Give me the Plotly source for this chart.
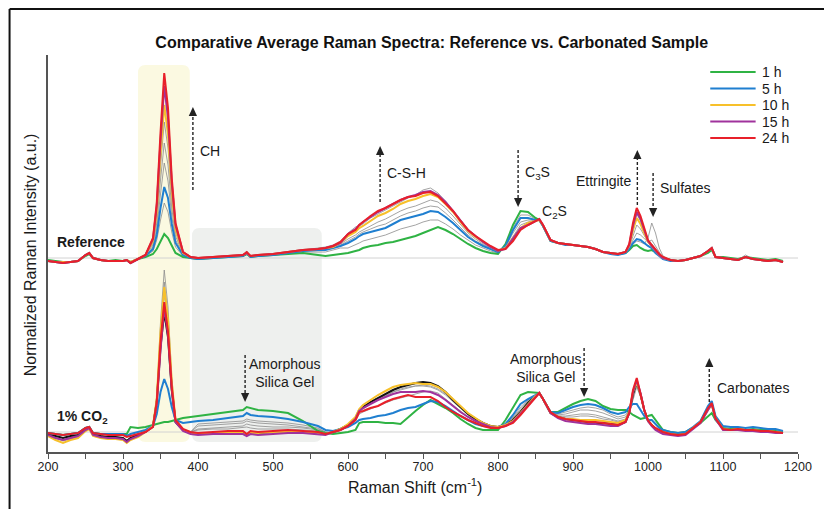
import numpy as np
import plotly.graph_objects as go

# ---------------------------------------------------------------- data
raman_shift = [200, 210, 220, 230, 240, 250, 255, 260, 270, 280, 290, 300, 305, 310, 320,
               330, 340, 345, 350, 355, 360, 365, 370, 380, 390,
               400, 420, 440, 460, 465, 470, 480, 500, 520, 540, 560, 570, 580, 590,
               600, 610, 615, 620, 630, 640, 650, 660, 670, 680, 690, 700, 710, 720, 730, 740,
               750, 760, 770, 780, 790, 800,
               810, 820, 830, 840, 850, 855, 860, 870,
               880, 890, 900, 910, 920, 930, 940, 950, 960, 970,
               975, 980, 985, 990, 995, 1000, 1005, 1010, 1015, 1020,
               1030, 1040, 1050, 1060, 1070, 1080, 1085, 1090,
               1100, 1110, 1120, 1130, 1140, 1150, 1160, 1170, 1180]

# Intensities above each panel's baseline, in units of 0.01 a.u.
# ---- Reference sample
ref_1h = [-2, -3, -4, -4, -3, 2, 4, 0, -2, -3, -2, -3, -2, -4, -1,
          1, 4, 9, 17, 24, 20, 12, 5, 1, 0,
          -1, 0, 1, 2, 4, 1, 2, 3, 4, 5, 3, 2, 3, 4,
          5, 7, 8, 10, 12, 13, 15, 16, 18, 20, 22, 25, 28, 31, 28, 24, 19, 14, 10, 7, 5, 4,
          14, 33, 47, 46, 40, 38, 32, 17,
          15, 14, 13, 12, 11, 9, 6, 5, 4, 5,
          8, 12, 13, 10, 8, 7, 8, 6, 3, 0,
          -2, -3, -2, 0, 2, 5, 8, 1,
          1, 0, -1, 1, 0, -1, -2, -1, -3]
ref_5h = [-3, -4, -5, -4, -3, 3, 5, 0, -2, -3, -3, -3, -2, -5, -1,
          2, 9, 23, 50, 71, 60, 34, 15, 3, 0,
          -1, 0, 1, 2, 5, 1, 2, 3, 5, 7, 8, 8, 10, 12,
          15, 19, 22, 24, 26, 28, 30, 34, 38, 40, 42, 44, 47, 46, 41, 35, 28, 21, 16, 12, 9, 6,
          12, 28, 40, 40, 38, 38, 32, 17,
          15, 13, 13, 12, 11, 9, 6, 4, 3, 5,
          9, 15, 19, 18, 15, 12, 10, 5, 2, -1,
          -3, -3, -2, 0, 2, 7, 10, 1,
          0, -1, -2, 1, -1, -2, -3, -2, -4]
ref_10h = [-3, -4, -4, -4, -3, 3, 5, 0, -2, -3, -3, -3, -2, -4, -1,
           3, 17, 46, 104, 153, 124, 66, 29, 5, 1,
           0, 1, 2, 3, 5, 2, 3, 4, 6, 8, 9, 10, 11, 15,
           22, 26, 30, 32, 37, 42, 45, 49, 54, 57, 59, 62, 64, 61, 54, 46, 36, 27, 21, 16, 11, 7,
           10, 20, 30, 35, 37, 38, 33, 18,
           15, 14, 13, 12, 11, 9, 6, 5, 4, 6,
           12, 28, 40, 34, 25, 16, 12, 7, 3, 0,
           -2, -3, -2, 0, 2, 7, 10, 1,
           0, -1, -2, 1, -1, -2, -3, -2, -4]
ref_15h = [-3, -4, -5, -4, -3, 3, 5, 0, -2, -3, -3, -3, -2, -5, -1,
           3, 19, 52, 117, 172, 140, 75, 33, 6, 1,
           0, 1, 2, 3, 5, 2, 3, 4, 6, 8, 9, 10, 12, 15,
           24, 29, 33, 36, 41, 46, 50, 54, 58, 61, 63, 66, 67, 63, 56, 47, 37, 28, 22, 16, 11, 7,
           9, 19, 30, 33, 37, 39, 33, 18,
           15, 14, 13, 12, 11, 9, 6, 5, 4, 6,
           13, 32, 46, 39, 28, 17, 12, 7, 3, 0,
           -2, -3, -2, 0, 2, 7, 10, 1,
           0, -1, -2, 1, -1, -2, -3, -2, -4]
ref_24h = [-3, -4, -5, -4, -3, 3, 5, 0, -2, -3, -3, -3, -2, -5, -1,
           3, 20, 55, 125, 185, 150, 80, 35, 6, 1,
           0, 1, 2, 3, 6, 2, 3, 4, 6, 8, 9, 10, 12, 16,
           24, 28, 33, 36, 42, 47, 50, 54, 58, 61, 62, 65, 66, 62, 55, 47, 37, 28, 22, 17, 12, 8,
           9, 17, 28, 33, 37, 39, 33, 18,
           15, 14, 13, 12, 11, 9, 6, 5, 4, 6,
           14, 35, 50, 42, 30, 18, 13, 8, 4, 1,
           -2, -3, -2, 0, 2, 7, 10, 1,
           0, -1, -2, 1, -1, -2, -3, -2, -4]
# intermediate hours (thin grey)
ref_grey_a = [-3, -4, -5, -4, -3, 3, 6, 0, -2, -3, -3, -3, -2, -5, -1,
              3, 15, 41, 92, 136, 110, 59, 26, 5, 1,
              0, 1, 2, 3, 7, 2, 3, 4, 6, 8, 10, 11, 13, 17,
              25, 31, 32, 34, 40, 44, 48, 52, 56, 60, 63, 68, 70, 65, 57, 48, 38, 29, 22, 16, 11, 7,
              9, 18, 29, 34, 37, 39, 33, 18,
              15, 14, 13, 12, 11, 9, 6, 5, 4, 6,
              12, 27, 44, 37, 27, 17, 12, 7, 3, 0,
              -2, -3, -2, 0, 2, 7, 10, 1,
              0, -1, -2, 3, -1, -2, -3, -2, -4]
ref_grey_b = [-3, -4, -5, -4, -3, 3, 5, 0, -2, -3, -3, -3, -2, -5, -1,
              3, 13, 35, 78, 115, 93, 50, 22, 4, 1,
              0, 1, 2, 3, 6, 2, 3, 4, 6, 8, 9, 10, 12, 14,
              19, 23, 26, 28, 32, 36, 39, 43, 47, 50, 52, 55, 58, 56, 50, 42, 33, 25, 19, 14, 10, 7,
              10, 22, 33, 36, 38, 38, 32, 17,
              15, 14, 13, 12, 11, 9, 6, 5, 4, 6,
              11, 22, 33, 29, 22, 16, 14, 8, 3, 0,
              -2, -3, -2, 0, 2, 7, 10, 1,
              0, -1, -2, 1, -1, -2, -3, -2, -4]
ref_grey_c = [-3, -4, -5, -4, -3, 3, 5, 0, -2, -3, -3, -3, -2, -5, -1,
              2, 11, 29, 64, 95, 77, 42, 18, 4, 0,
              0, 1, 2, 3, 5, 2, 2, 3, 5, 7, 8, 9, 11, 13,
              17, 21, 24, 26, 29, 32, 34, 38, 42, 45, 47, 50, 52, 51, 45, 38, 30, 23, 17, 13, 9, 6,
              11, 25, 36, 38, 38, 38, 32, 17,
              15, 13, 13, 12, 11, 9, 6, 5, 4, 5,
              10, 18, 25, 23, 19, 16, 18, 12, 5, 0,
              -2, -3, -2, 0, 2, 7, 10, 1,
              0, -1, -2, 1, -1, -2, -3, -2, -4]
ref_grey_d = [-3, -4, -5, -4, -3, 3, 5, 0, -2, -3, -3, -3, -2, -5, -1,
              2, 7, 18, 38, 55, 46, 26, 11, 2, 0,
              -1, 0, 1, 2, 4, 1, 2, 3, 5, 6, 6, 6, 8, 10,
              10, 13, 15, 17, 19, 21, 23, 26, 29, 31, 33, 36, 38, 38, 34, 29, 23, 18, 13, 10, 7, 5,
              13, 30, 43, 43, 39, 38, 32, 17,
              15, 14, 13, 12, 11, 9, 6, 5, 4, 5,
              8, 14, 17, 16, 14, 20, 35, 25, 10, 2,
              -2, -3, -2, 0, 2, 6, 9, 1,
              0, -1, -2, 1, -1, -2, -3, -2, -4]

# ---- 1% CO2 sample
co2_1h = [-1, -2, -3, -2, -1, 4, 5, -1, -2, -2, -2, -2, -2, 5, 4,
          5, 7, 8, 9, 10, 10, 11, 12, 14, 15,
          16, 18, 20, 22, 25, 24, 22, 21, 19, 11, 1, -1, -2, -1,
          0, 2, 9, 10, 10, 10, 9, 9, 8, 15, 21, 27, 32, 28, 24, 19, 13, 8, 4, 2, 2, 2,
          12, 25, 37, 40, 39, 39, 33, 20,
          20, 24, 28, 31, 33, 31, 26, 23, 22, 22,
          20, 17, 15, 13, 14, 16, 17, 12, 6, 2,
          0, -1, 0, 4, 9, 16, 19, 12,
          4, 3, 3, 2, 3, 2, 2, 1, 0]
co2_5h = [-1, -2, -3, -2, -1, 4, 5, -1, -2, -2, -2, -2, -4, -2, 0,
          2, 6, 18, 40, 53, 43, 25, 12, 9, 10,
          11, 12, 14, 16, 19, 17, 16, 15, 13, 10, 6, 2, 1, 3,
          5, 9, 12, 13, 14, 16, 17, 19, 22, 24, 25, 28, 31, 30, 26, 21, 16, 12, 8, 6, 5, 5,
          8, 17, 28, 33, 37, 39, 33, 20,
          19, 22, 25, 27, 28, 27, 24, 20, 18, 20,
          25, 28, 28, 22, 16, 12, 12, 8, 4, 2,
          0, -1, 0, 5, 11, 26, 31, 16,
          6, 5, 5, 4, 5, 4, 3, 3, 1]
co2_10h = [-4, -8, -11, -8, -6, 1, 3, -4, -6, -7, -7, -8, -11, -8, -5,
           0, 6, 33, 100, 145, 112, 50, 12, 2, -1,
           -2, -1, -1, -1, -3, -1, -1, 0, 0, 0, -1, -2, 0, 3,
           8, 15, 23, 27, 32, 37, 41, 45, 47, 48, 49, 48, 48, 45, 40, 33, 26, 19, 14, 9, 6, 5,
           7, 11, 19, 28, 36, 39, 33, 19,
           15, 13, 13, 12, 12, 12, 11, 10, 9, 12,
           20, 40, 50, 38, 22, 11, 7, 3, 1, 0,
           -2, -3, -2, 4, 10, 22, 27, 14,
           3, 2, 3, 2, 2, 1, 1, 0, -1]
co2_15h = [-3, -6, -8, -6, -4, 2, 4, -3, -5, -6, -6, -7, -10, -7, -4,
           0, 5, 28, 82, 125, 97, 43, 10, 1, -2,
           -3, -2, -2, -2, -4, -2, -3, -2, -1, -1, -2, -3, 0, 2,
           6, 13, 21, 24, 28, 32, 35, 38, 40, 40, 40, 41, 40, 37, 32, 26, 20, 15, 11, 8, 5, 4,
           6, 10, 18, 27, 35, 39, 33, 19,
           14, 11, 10, 9, 8, 8, 7, 6, 6, 10,
           19, 40, 52, 39, 22, 11, 6, 2, 0, -2,
           -3, -4, -3, 3, 9, 22, 28, 13,
           2, 2, 2, 1, 1, 0, 0, -1, -1]
co2_24h = [-1, -2, -3, -2, -1, 4, 5, -1, -2, -3, -3, -3, -5, -4, -2,
           0, 5, 30, 90, 130, 100, 45, 12, 3, 0,
           -1, 0, 1, 1, -2, 1, 0, 1, 2, 1, 0, -2, 0, 2,
           6, 12, 20, 21, 24, 26, 30, 33, 35, 37, 35, 35, 35, 31, 25, 20, 16, 12, 9, 6, 4, 4,
           6, 9, 17, 26, 35, 39, 33, 20,
           15, 13, 12, 11, 10, 10, 9, 8, 7, 10,
           19, 42, 54, 38, 22, 12, 7, 4, 2, 0,
           -2, -3, -2, 4, 10, 24, 29, 14,
           3, 2, 3, 2, 2, 1, 1, 0, -1]
co2_dark = [-2, -4, -6, -4, -3, 3, 4, -2, -4, -5, -5, -6, -9, -6, -3,
            0, 6, 30, 85, 120, 95, 42, 10, 2, -1,
            -2, -1, 0, 0, -3, 0, -1, 0, 1, 0, -1, -2, 0, 3,
            7, 14, 22, 25, 30, 34, 38, 42, 45, 47, 49, 50, 49, 46, 40, 32, 25, 18, 13, 9, 6, 5,
            7, 12, 20, 29, 36, 39, 33, 19,
            15, 13, 12, 11, 10, 9, 9, 8, 7, 10,
            19, 38, 50, 38, 22, 11, 7, 3, 1, 0,
            -2, -3, -2, 4, 10, 23, 28, 14,
            3, 2, 3, 2, 2, 1, 1, 0, -1]
co2_grey_a = [-2, -5, -8, -6, -4, 2, 4, -3, -5, -6, -6, -7, -10, -7, -4,
              1, 7, 36, 110, 162, 125, 55, 13, 3, 0,
              8, 9, 10, 11, 13, 12, 11, 10, 9, 7, 4, 0, -1, 2,
              6, 13, 20, 23, 28, 32, 36, 40, 42, 44, 46, 47, 46, 43, 38, 31, 24, 18, 13, 9, 6, 5,
              8, 15, 25, 32, 37, 39, 33, 20,
              18, 20, 22, 24, 25, 24, 22, 18, 15, 17,
              22, 32, 45, 35, 20, 11, 8, 4, 2, 1,
              -1, -2, -1, 4, 10, 24, 29, 15,
              4, 3, 3, 2, 2, 1, 1, 0, 0]
co2_grey_b = [-2, -6, -9, -7, -5, 2, 3, -4, -6, -7, -7, -8, -11, -8, -5,
              0, 6, 33, 100, 150, 115, 50, 12, 2, 0,
              6, 7, 8, 9, 11, 10, 9, 8, 7, 5, 3, 0, -1, 2,
              7, 14, 21, 25, 30, 34, 38, 42, 45, 47, 48, 49, 48, 45, 39, 32, 25, 19, 14, 9, 6, 5,
              8, 14, 23, 31, 36, 39, 33, 20,
              17, 18, 20, 22, 22, 21, 19, 16, 13, 15,
              21, 35, 47, 36, 21, 11, 7, 3, 1, 0,
              -1, -2, -1, 4, 10, 23, 28, 14,
              3, 3, 3, 2, 2, 1, 1, 0, 0]
co2_grey_c = [-3, -6, -8, -6, -5, 2, 3, -4, -5, -6, -6, -7, -9, -7, -4,
              0, 6, 30, 92, 138, 107, 47, 11, 2, 0,
              3, 4, 5, 6, 8, 7, 6, 5, 5, 4, 2, -1, -1, 2,
              6, 13, 21, 24, 28, 32, 36, 40, 43, 45, 46, 46, 45, 42, 37, 30, 23, 17, 12, 8, 6, 5,
              7, 13, 21, 30, 36, 39, 33, 19,
              16, 16, 17, 18, 18, 17, 15, 13, 11, 13,
              20, 37, 48, 37, 21, 11, 7, 3, 1, 0,
              -2, -2, -1, 4, 10, 23, 28, 14,
              3, 2, 3, 2, 2, 1, 1, 0, 0]
co2_grey_d = [-2, -4, -6, -5, -3, 3, 4, -2, -4, -5, -5, -6, -8, -5, -3,
              0, 6, 28, 85, 128, 100, 44, 11, 2, 0,
              2, 3, 3, 4, 5, 4, 3, 3, 3, 2, 1, -1, -1, 2,
              5, 11, 18, 20, 23, 26, 29, 32, 34, 36, 38, 40, 41, 39, 33, 27, 21, 15, 11, 8, 6, 5,
              7, 12, 20, 29, 36, 39, 33, 19,
              15, 15, 15, 16, 16, 15, 13, 12, 10, 12,
              20, 38, 49, 37, 21, 11, 7, 3, 1, 0,
              -2, -3, -2, 4, 10, 23, 28, 14,
              3, 2, 3, 2, 2, 1, 1, 0, -1]

legend_labels = ["1 h", "5 h", "10 h", "15 h", "24 h"]
x_ticks = [200, 300, 400, 500, 600, 700, 800, 900, 1000, 1100, 1200]

REF_BASE = 1.94   # vertical offset of the Reference stack (a.u.)
CO2_BASE = 0.20   # vertical offset of the 1% CO2 stack (a.u.)

# ---------------------------------------------------------------- style
GREEN, BLUE, YELLOW, PURPLE, RED = "#2fb344", "#1f7fd0", "#f7c02a", "#a0329c", "#e8202a"
GREY, DARK = "#8c8c8c", "#111111"
FONT = "Liberation Sans, Arial, sans-serif"

all_series = [ref_1h, ref_5h, ref_10h, ref_15h, ref_24h, ref_grey_a, ref_grey_b, ref_grey_c,
              ref_grey_d, co2_1h, co2_5h, co2_10h, co2_15h, co2_24h, co2_dark, co2_grey_a,
              co2_grey_b, co2_grey_c, co2_grey_d]
for s in all_series:
    if len(s) != len(raman_shift):
        raise ValueError(f"length mismatch {len(s)} vs {len(raman_shift)}")

fig = go.Figure()


def add(series, base, color, width):
    fig.add_trace(go.Scatter(
        x=raman_shift, y=np.array(series, dtype=float) / 100.0 + base,
        mode="lines", line=dict(color=color, width=width),
        showlegend=False, hoverinfo="skip"))


for s in [ref_grey_a, ref_grey_b, ref_grey_c, ref_grey_d]:
    add(s, REF_BASE, GREY, 0.8)
for s in [co2_grey_a, co2_grey_b, co2_grey_c, co2_grey_d]:
    add(s, CO2_BASE, GREY, 0.8)
add(co2_dark, CO2_BASE, DARK, 2)
for s, c in [(ref_1h, GREEN), (ref_5h, BLUE), (ref_10h, YELLOW), (ref_15h, PURPLE), (ref_24h, RED)]:
    add(s, REF_BASE, c, 2)
for s, c in [(co2_1h, GREEN), (co2_5h, BLUE), (co2_10h, YELLOW), (co2_15h, PURPLE), (co2_24h, RED)]:
    add(s, CO2_BASE, c, 2)

# ---------------------------------------------------------------- shapes
shapes = []

# outer frame of the figure panel (left and top edges; the rest runs off the canvas)
FX, FY = (9 - 48) / 761, (452 - 9) / 397
shapes.append(dict(type="line", xref="paper", yref="paper", x0=FX, x1=FX, y0=-0.3, y1=FY,
                   line=dict(color="#111111", width=2)))
shapes.append(dict(type="line", xref="paper", yref="paper", x0=FX, x1=1.1, y0=FY, y1=FY,
                   line=dict(color="#111111", width=2)))


def rounded(x0, x1, y0, y1, color, rx=10, ry=0.08):
    p = (f"M{x0+rx},{y0} L{x1-rx},{y0} Q{x1},{y0} {x1},{y0+ry} L{x1},{y1-ry} "
         f"Q{x1},{y1} {x1-rx},{y1} L{x0+rx},{y1} Q{x0},{y1} {x0},{y1-ry} "
         f"L{x0},{y0+ry} Q{x0},{y0} {x0+rx},{y0} Z")
    shapes.append(dict(type="path", path=p, xref="x", yref="y", fillcolor=color,
                       line=dict(width=0), layer="below"))


rounded(320, 389, 0.10, 3.87, "#fbf9e1")
rounded(392, 565, 0.10, 2.24, "#eef0ee")

for b in (REF_BASE, CO2_BASE):
    shapes.append(dict(type="line", xref="x", yref="y", x0=200, x1=1200, y0=b, y1=b,
                       line=dict(color="#d2d2d2", width=1), layer="below"))


def arrow(x, y_from, y_tip, head=0.09, hw=5.5):
    base = y_tip - head if y_tip > y_from else y_tip + head
    shapes.append(dict(type="line", xref="x", yref="y", x0=x, x1=x, y0=y_from, y1=base,
                       line=dict(color="#222222", width=1.4, dash="3px,2px")))
    shapes.append(dict(type="path", xref="x", yref="y",
                       path=f"M{x-hw},{base} L{x+hw},{base} L{x},{y_tip} Z",
                       fillcolor="#222222", line=dict(width=0)))


arrow(393.2, 2.62, 3.45)     # CH (up)
arrow(642.8, 2.50, 3.06)     # C-S-H (up)
arrow(826.8, 3.02, 2.45)     # C3S (down)
arrow(985.8, 2.47, 3.02)     # Ettringite (up)
arrow(1006.8, 2.79, 2.35)    # Sulfates (down)
arrow(462.8, 0.97, 0.50)     # Amorphous silica gel, left (down)
arrow(914.8, 1.04, 0.55)     # Amorphous silica gel, right (down)
arrow(1081.7, 0.50, 0.94)    # Carbonates (up)

# ---------------------------------------------------------------- annotations
ann = []


def text(x, y, s, size=14, xanchor="left", bold=False, xref="x", yref="y", **kw):
    if bold:
        s = f"<b>{s}</b>"
    ann.append(dict(x=x, y=y, xref=xref, yref=yref, text=s, showarrow=False,
                    xanchor=xanchor, yanchor="middle",
                    font=dict(family=FONT, size=size, color="#1a1a1a"), **kw))


text(399.7, 3.01, "CH")
text(649.4, 2.79, "C-S-H")
text(833.4, 2.79, "C<sub>3</sub>S")
text(855.7, 2.40, "C<sub>2</sub>S")
text(980.6, 2.71, "Ettringite", xanchor="right")
text(1013.4, 2.64, "Sulfates")
text(515.4, 0.79, "Amorphous<br>Silica Gel", xanchor="center")
text(863.6, 0.84, "Amorphous<br>Silica Gel", xanchor="center")
text(1089.6, 0.64, "Carbonates")
text(209.2, 2.10, "Reference", bold=True)
text(209.2, 0.35, "1% CO<sub>2</sub>", bold=True)

# axis titles
text(0.4888, -0.0856, "Raman Shift (cm<sup>-1</sup>)", size=16, xanchor="center",
     xref="paper", yref="paper")
text(-0.0237, 0.496, "Normalized Raman Intensity (a.u.)", size=16, xanchor="center",
     xref="paper", yref="paper", textangle=-90)

# legend (drawn manually to match original line length / spacing)
legend_colors = [GREEN, BLUE, YELLOW, PURPLE, RED]
legend_y_px = [72, 88.5, 105, 121.5, 138]
for lab, col, ypx in zip(legend_labels, legend_colors, legend_y_px):
    yp = (452 - ypx) / 397
    shapes.append(dict(type="line", xref="paper", yref="paper", x0=0.883, x1=0.9435,
                       y0=yp, y1=yp, line=dict(color=col, width=2)))
    text(0.9488, yp, lab, size=14, xref="paper", yref="paper")

fig.update_layout(
    width=824, height=509, showlegend=False,
    margin=dict(l=48, r=15, t=55, b=57),
    paper_bgcolor="white", plot_bgcolor="rgba(0,0,0,0)",
    title=dict(text="<b>Comparative Average Raman Spectra: Reference vs. Carbonated Sample</b>",
               x=0.524, y=1 - 42 / 509, xref="container", yref="container",
               xanchor="center", yanchor="middle",
               font=dict(family=FONT, size=16, color="#111111")),
    shapes=shapes, annotations=ann,
    xaxis=dict(range=[200, 1200], showgrid=False, zeroline=False, showline=True,
               linecolor="#555555", linewidth=1.5, ticks="outside", ticklen=2,
               tickcolor="#555555", tickvals=x_ticks,
               minor=dict(ticks="outside", ticklen=5, dtick=50, tickcolor="#555555"),
               tickfont=dict(family=FONT, size=12.5, color="#222222")),
    yaxis=dict(range=[0, 3.97], showgrid=False, zeroline=False, showline=True,
               linecolor="#555555", linewidth=1.5, showticklabels=False, ticks=""),
)

fig.write_html("out.html")
